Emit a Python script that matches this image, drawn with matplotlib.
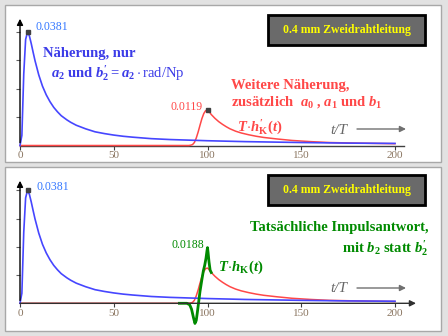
import matplotlib
matplotlib.use("Agg")
import matplotlib.pyplot as plt
from matplotlib.patches import Rectangle

plt.rcParams['font.family'] = ['Liberation Serif', 'DejaVu Serif']
plt.rcParams['mathtext.fontset'] = 'custom'
plt.rcParams['mathtext.rm'] = 'Liberation Serif:bold'
plt.rcParams['mathtext.it'] = 'Liberation Serif:italic:bold'
plt.rcParams['mathtext.bf'] = 'Liberation Serif:bold'
plt.rcParams['mathtext.sf'] = 'Liberation Serif'

# Naeherung nur mit a2 (blau)
t_blau = [0, 1, 2, 3, 4, 5, 6, 7, 8, 10, 12, 14, 16, 18, 20, 22, 25, 27, 30, 35, 40, 45,
          50, 55, 60, 70, 80, 100, 120, 150, 175, 200]
h_blau = [0, 0.0034, 0.0240, 0.0356, 0.0381, 0.0368, 0.0342, 0.0313, 0.0285, 0.0237,
          0.0199, 0.0170, 0.0147, 0.0128, 0.0113, 0.0100, 0.0086, 0.0078, 0.0068, 0.0056,
          0.0046, 0.0040, 0.0035, 0.0031, 0.0028, 0.0023, 0.0020, 0.0016, 0.0013, 0.0010,
          0.0008, 0.0007]

# weitere Naeherung mit a0, a1, b1 (rot)
t_rot = [0, 90, 91, 92, 93, 94, 95, 96, 97, 98, 99, 100, 101, 102, 104, 106, 108, 110,
         112, 115, 118, 122, 126, 130, 137, 145, 155, 165, 180, 200]
h_rot = [0, 0, 0.0001, 0.0003, 0.0010, 0.0025, 0.0045, 0.0068, 0.0090, 0.0107, 0.0117,
         0.0119, 0.0113, 0.0104, 0.0091, 0.0080, 0.0071, 0.0063, 0.0056, 0.0048, 0.0042,
         0.0036, 0.0031, 0.0027, 0.0022, 0.0017, 0.0013, 0.0010, 0.0008, 0.0006]

# tatsaechliche Impulsantwort (gruen), nur wo sie von rot abweicht
t_gruen = [85, 89, 90.5, 91.5, 92.5, 93.3, 94, 94.6, 95.2, 96, 97, 97.8, 98.5, 99.2,
           99.7, 100, 100.3, 100.8, 101.4, 102]
h_gruen = [0, 0, -0.0005, -0.0020, -0.0048, -0.0068, -0.0058, -0.0030, 0.0, 0.0040,
           0.0080, 0.0110, 0.0128, 0.0152, 0.0176, 0.0188, 0.0172, 0.0140, 0.0112, 0.0104]

x_ticks = [0, 50, 100, 150, 200]
y_ticks = [0.0095, 0.019, 0.0286, 0.0381]

W, H = 448, 336
BLAU = '#4646ff'
ROT = '#ff4848'
GRUEN = '#008a00'


def px(x, y):  # Pixel (von oben links) -> figure fraction
    return x / W, 1 - y / H


def ftext(x, y, s, **kw):
    kw.setdefault('va', 'center')
    fig.text(*px(x, y), s, **kw)


def achse(ax, pfeil_x):
    ax.set_facecolor('none')
    for sp in ax.spines.values():
        sp.set_visible(False)
    ax.set_xlim(0, 204.8)
    ax.set_xticks(x_ticks)
    ax.set_yticks(y_ticks)
    ax.set_yticklabels([])
    ax.tick_params(axis='x', direction='out', length=3, color='#404040',
                   labelcolor='#8a7560', labelsize=8, pad=1)
    ax.tick_params(axis='y', direction='out', length=3, color='#606060')
    ax.annotate('', xy=(0, 1), xytext=(0, 0), xycoords='axes fraction',
                arrowprops=dict(arrowstyle='-|>', color='black', lw=1, mutation_scale=9))
    if pfeil_x:
        ax.annotate('', xy=(211.2, 0), xytext=(0, 0), annotation_clip=False,
                    arrowprops=dict(arrowstyle='-|>', color='#303030', lw=1, mutation_scale=9,
                                    shrinkA=0, shrinkB=0))
    else:
        ax.plot([0, 204.8], [0, 0], color='#404040', lw=1, clip_on=False)


def kasten(y):
    fig.add_artist(Rectangle(px(268, y + 30), 157 / W, 30 / H, transform=fig.transFigure,
                             facecolor='#6a6a6a', edgecolor='black', lw=2))
    ftext(346.5, y + 15, '0.4 mm Zweidrahtleitung', color='#ffff00', fontsize=8.5,
          fontweight='bold', ha='center')


def tT_pfeil(y):
    ftext(330, y, 't/T', color='#686868', fontsize=11, style='italic')
    plt.annotate('', xy=px(406, y - 1), xytext=px(357, y - 1), xycoords='figure fraction',
                 arrowprops=dict(arrowstyle='-|>', color='#707070', lw=1, mutation_scale=9,
                                 shrinkA=0, shrinkB=0))


fig = plt.figure(figsize=(4.48, 3.36), dpi=100)
fig.patch.set_facecolor('#e2e2e2')
for y0, y1 in [(5, 162), (167, 331)]:
    fig.add_artist(Rectangle(px(5, y1), 436 / W, (y1 - y0) / H, transform=fig.transFigure,
                             facecolor='white', edgecolor='#a8a8a8', lw=1, zorder=-5))

# oben
ax1 = fig.add_axes([20 / W, (H - 145.5) / H, 384 / W, 129.5 / H])
ax1.set_ylim(0, 0.04347)
achse(ax1, False)
ax1.plot(t_rot, h_rot, color=ROT, lw=1.1, clip_on=False)
ax1.plot(t_blau, h_blau, color=BLAU, lw=1.2, clip_on=False)
ax1.plot([4, 100], [0.0381, 0.0119], ls='none', marker='s', ms=3, color='#404040')

ftext(35, 27.5, '0.0381', color='#3377ff', fontsize=8.5)
ftext(43, 54, 'Näherung, nur', color='#3c3ce8', fontsize=10.5, fontweight='bold')
ftext(51, 73, r'$a_2$ und $b_2^{\prime} = a_2\cdot\mathsf{rad/Np}$', color='#3c3ce8',
      fontsize=10.5, fontweight='bold')
ftext(231, 86, 'Weitere Näherung,', color=ROT, fontsize=10.5, fontweight='bold')
ftext(231, 102, r'zusätzlich  $a_0$ , $a_1$ und $b_1$', color=ROT, fontsize=10.5,
      fontweight='bold')
ftext(203, 107.5, '0.0119', color=ROT, fontsize=8.5, ha='right')
ftext(237, 127, r'$T\!\cdot\!h_{\mathrm{K}}^{\prime}(t)$', color=ROT, fontsize=10.5)
tT_pfeil(130)
kasten(15)

# unten
ax2 = fig.add_axes([20 / W, (H - 303.3) / H, 384 / W, 125.3 / H])
ax2.set_ylim(0, 0.0423)
achse(ax2, True)
ax2.plot(t_rot, h_rot, color=ROT, lw=1.1, clip_on=False)
ax2.plot(t_blau, h_blau, color=BLAU, lw=1.2, clip_on=False)
ax2.plot(t_gruen, h_gruen, color=GRUEN, lw=2, clip_on=False)
ax2.plot([4], [0.0381], ls='none', marker='s', ms=3, color='#404040')

ftext(36, 186.5, '0.0381', color='#3377ff', fontsize=8.5)
ftext(204, 245, '0.0188', color=GRUEN, fontsize=8.5, ha='right')
ftext(218, 267, r'$T\!\cdot\!h_{\mathrm{K}}(t)$', color=GRUEN, fontsize=10.5)
ftext(428, 228, 'Tatsächliche Impulsantwort,', color=GRUEN, fontsize=10.5,
      fontweight='bold', ha='right')
ftext(428, 248, r'mit $b_2$ statt $b_2^{\prime}$', color=GRUEN, fontsize=10.5,
      fontweight='bold', ha='right')
tT_pfeil(289)
kasten(175)

fig.savefig('out.png', dpi=100, facecolor=fig.get_facecolor())
